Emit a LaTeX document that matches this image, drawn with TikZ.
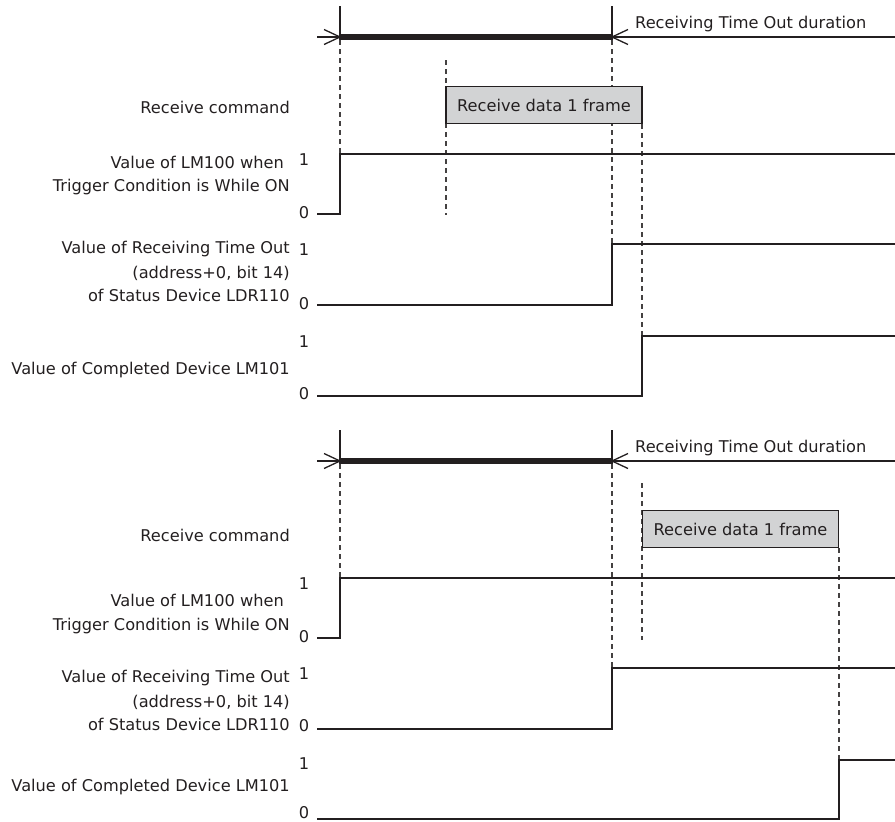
\documentclass[tikz,border=0pt]{standalone}
\usepackage{fontspec}
\setmainfont{DejaVu Sans}
\definecolor{ink}{RGB}{35,31,32}
\definecolor{boxgray}{RGB}{210,211,212}
\begin{document}
\begin{tikzpicture}[x=1pt,y=-1pt,
  lbl/.style={inner sep=0pt, anchor=base east, text=ink},
  lvl/.style={inner sep=0pt, anchor=base, text=ink},
  durlbl/.style={inner sep=0pt, anchor=base west, text=ink},
  sig/.style={draw=ink, line width=2.8pt, line join=miter},
  guide/.style={draw=ink!85, line width=1.3pt, dash pattern=on 5pt off 4pt},
  thinline/.style={draw=ink, line width=1.3pt},
  thickbar/.style={draw=ink, line width=5.5pt},
  framebox/.style={draw=ink, line width=1.4pt, fill=boxgray, minimum width=196pt, minimum height=37.5pt, inner sep=0pt, text=ink},
  font=\fontsize{16.2}{24}\selectfont]
\useasboundingbox (0,0) rectangle (895,822);

% ================= TOP SECTION =================
\draw[guide] (340,40) -- (340,154);
\draw[guide] (446,60) -- (446,215);
\draw[guide] (612,40) -- (612,244);
\draw[guide] (642,124) -- (642,336);
\coordinate (aS) at (340,37);
\coordinate (aE) at (612,37);
\coordinate (aL) at (317,37);
\coordinate (aR) at (895,37);
\draw[thinline] (aL) -- (aR);
\draw[thickbar] (aS) -- (aE);
\draw[thinline] (340,6) -- (340,40);
\draw[thinline] (612,6) -- (612,40);
\draw[thinline] (324,29.5) -- (aS) -- (324,44.5);
\draw[thinline] (628,29.5) -- (aE) -- (628,44.5);
\node[durlbl] (dur1) at (635,28) {Receiving Time Out duration};
\node[framebox] (rx1) at (544,105) {Receive data 1 frame};
\draw[sig] (317,214) -- (340,214) -- (340,154) -- (895,154);
\draw[sig] (317,305) -- (612,305) -- (612,244) -- (895,244);
\draw[sig] (317,396) -- (642,396) -- (642,336) -- (895,336);
\node[lbl] (rc1) at (290,113) {Receive command};
\node[lbl] (lmA1) at (290,168) {Value of LM100 when\hspace*{6pt}};
\node[lbl] (lmB1) at (290,191) {Trigger Condition is While ON};
\node[lbl] (toA1) at (290,253) {Value of Receiving Time Out};
\node[lbl] (toB1) at (290,278) {(address+0, bit 14)};
\node[lbl] (toC1) at (290,301) {of Status Device LDR110};
\node[lbl] (cdA1) at (290,374) {Value of Completed Device LM101};
\node[lvl] (lm1h) at (304,165) {1};
\node[lvl] (lm1l) at (304,218) {0};
\node[lvl] (to1h) at (304,255) {1};
\node[lvl] (to1l) at (304,309) {0};
\node[lvl] (cd1h) at (304,347) {1};
\node[lvl] (cd1l) at (304,399) {0};

% ================= BOTTOM SECTION =================
\draw[guide] (340,464) -- (340,578);
\draw[guide] (612,464) -- (612,668);
\draw[guide] (642,483) -- (642,640);
\draw[guide] (839,548) -- (839,760);
\coordinate (bS) at (340,461);
\coordinate (bE) at (612,461);
\coordinate (bL) at (317,461);
\coordinate (bR) at (895,461);
\draw[thinline] (bL) -- (bR);
\draw[thickbar] (bS) -- (bE);
\draw[thinline] (340,430) -- (340,464);
\draw[thinline] (612,430) -- (612,464);
\draw[thinline] (324,453.5) -- (bS) -- (324,468.5);
\draw[thinline] (628,453.5) -- (bE) -- (628,468.5);
\node[durlbl] (dur2) at (635,452) {Receiving Time Out duration};
\node[framebox] (rx2) at (740.5,529) {Receive data 1 frame};
\draw[sig] (317,819) -- (839,819) -- (839,760) -- (895,760);
\draw[sig] (317,638) -- (340,638) -- (340,578) -- (895,578);
\draw[sig] (317,729) -- (612,729) -- (612,668) -- (895,668);
\node[lbl] (rc2) at (290,541) {Receive command};
\node[lbl] (lmA2) at (290,606) {Value of LM100 when\hspace*{6pt}};
\node[lbl] (lmB2) at (290,630) {Trigger Condition is While ON};
\node[lbl] (toA2) at (290,682) {Value of Receiving Time Out};
\node[lbl] (toB2) at (290,707) {(address+0, bit 14)};
\node[lbl] (toC2) at (290,730) {of Status Device LDR110};
\node[lbl] (cdA2) at (290,791) {Value of Completed Device LM101};
\node[lvl] (lm2h) at (304,589) {1};
\node[lvl] (lm2l) at (304,642) {0};
\node[lvl] (to2h) at (304,679) {1};
\node[lvl] (to2l) at (304,731) {0};
\node[lvl] (cd2h) at (304,769) {1};
\node[lvl] (cd2l) at (304,818.5) {0};
\end{tikzpicture}
\end{document}
